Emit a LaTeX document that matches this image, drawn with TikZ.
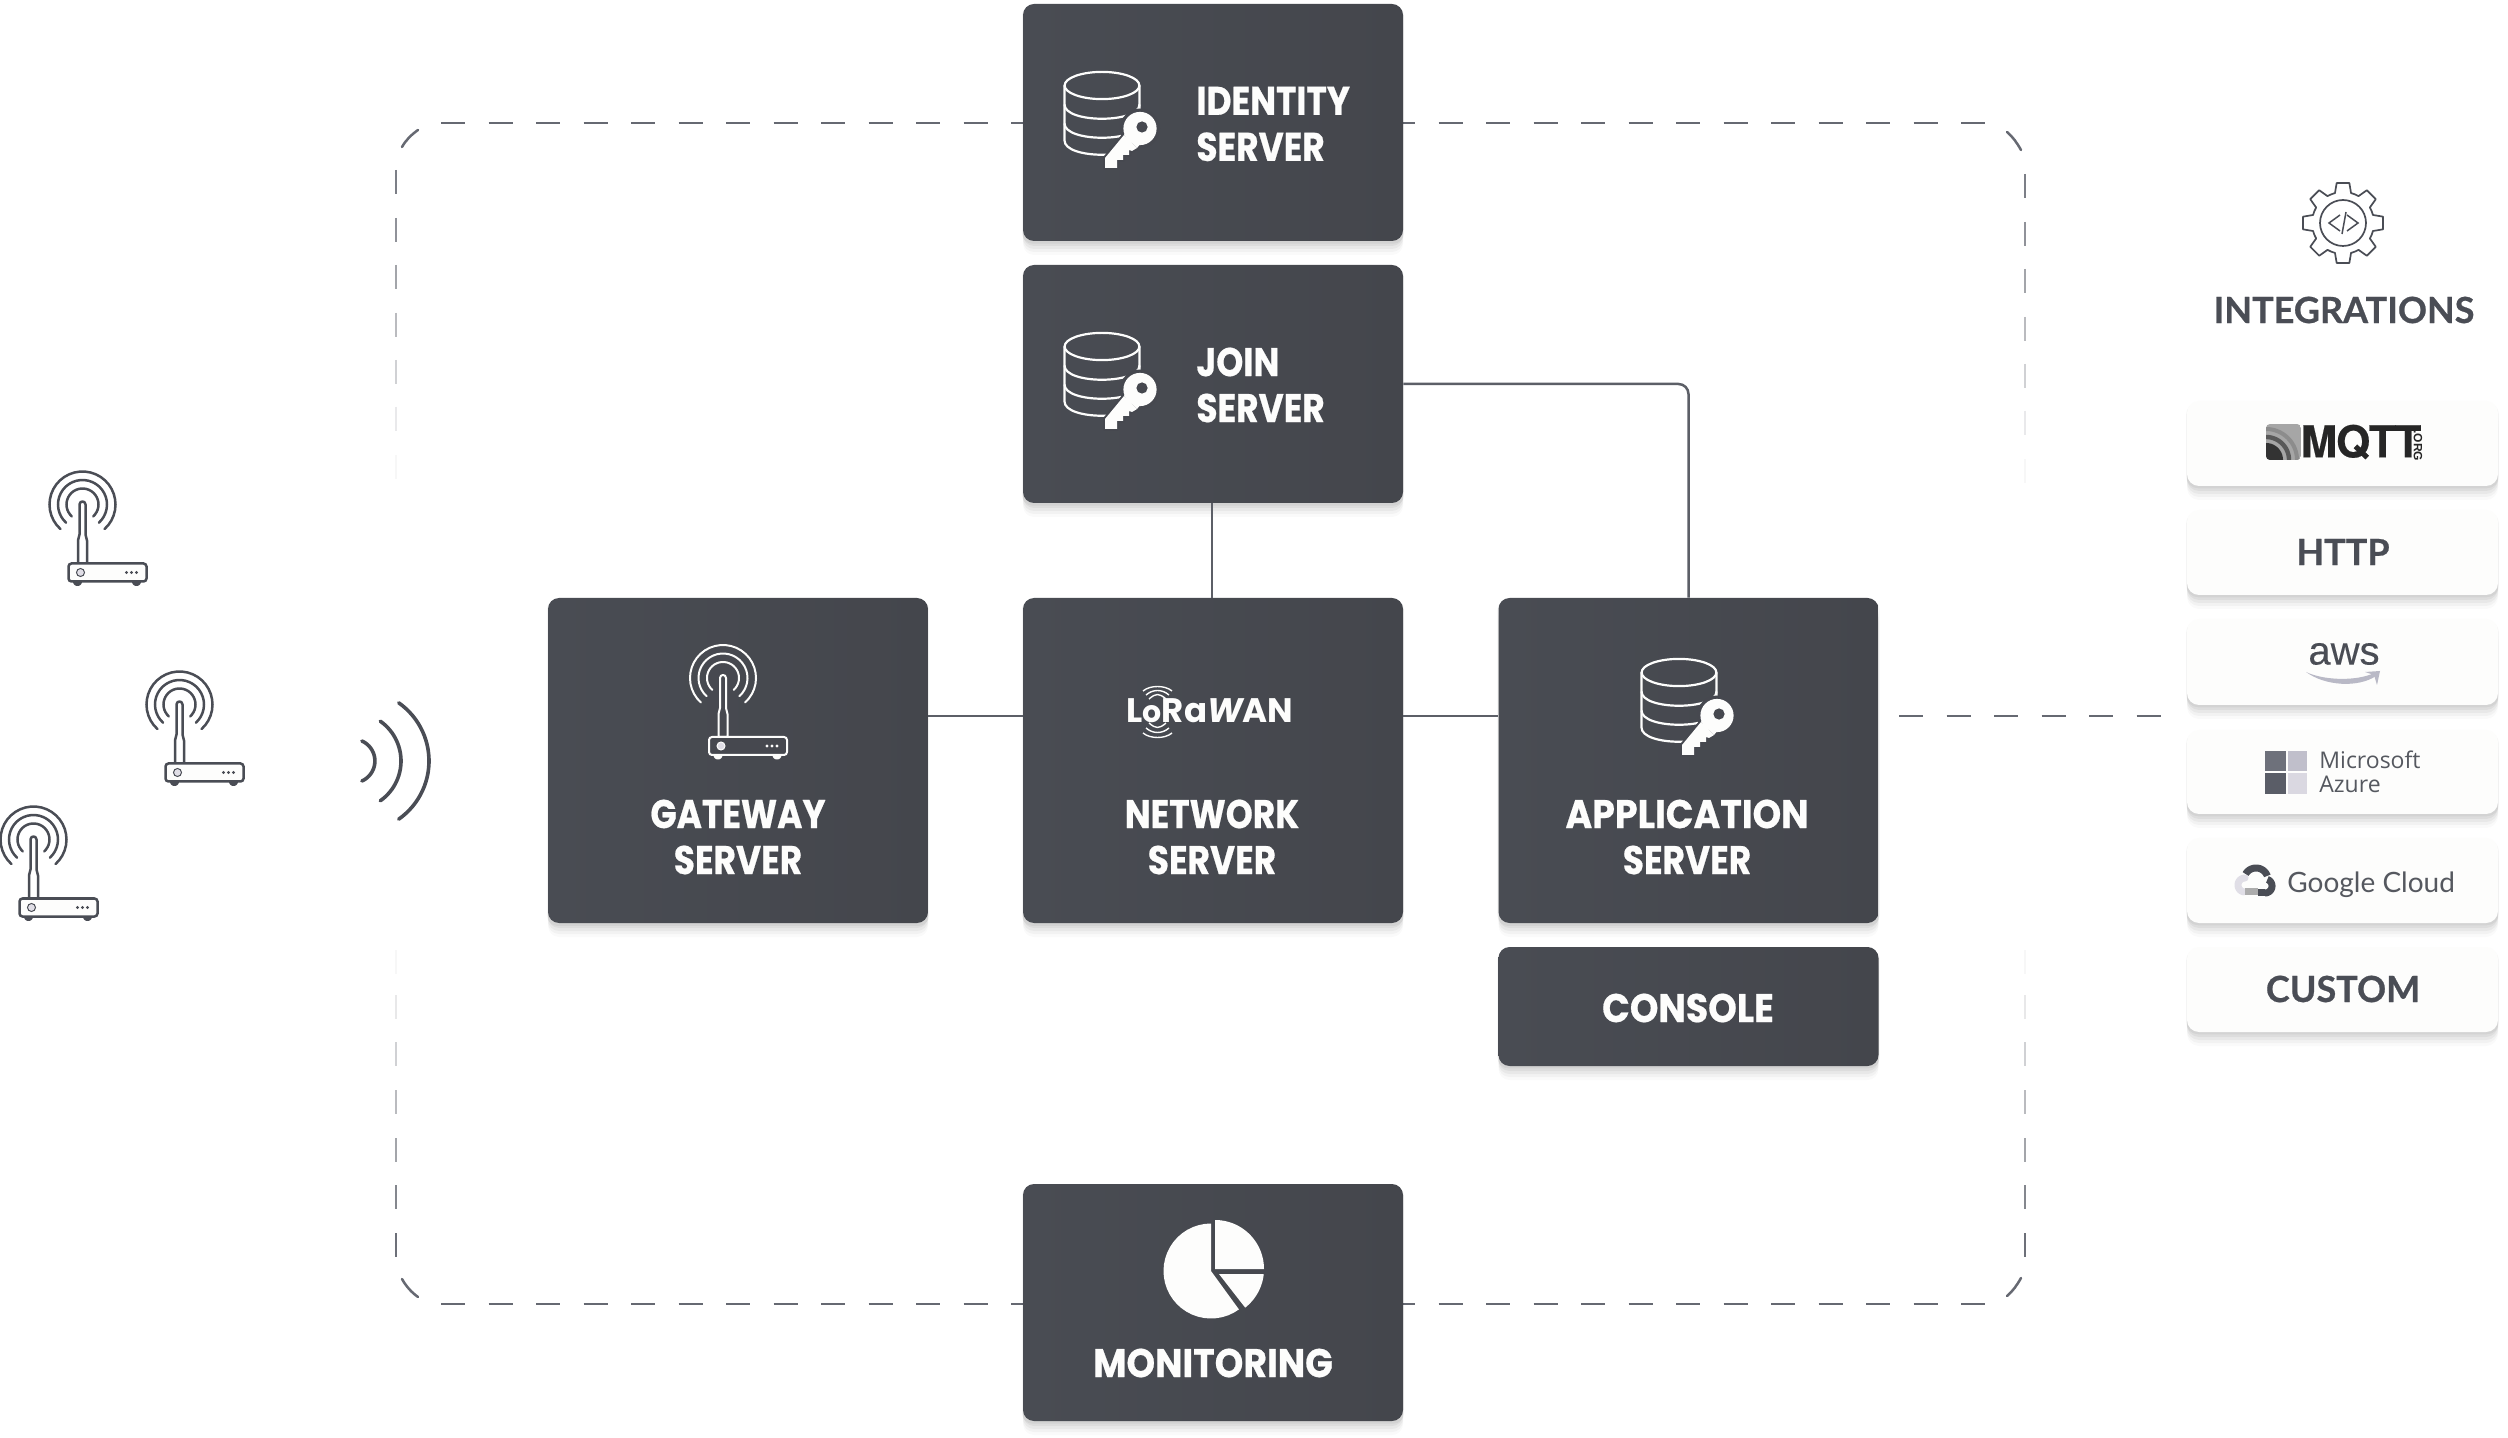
\documentclass[tikz,border=0pt]{standalone}
\usepackage{fontspec}
\usetikzlibrary{shadows}
\newfontfamily\boxf{Poppins}[FakeStretch=0.86,BoldFeatures={FakeBold=0.5}]
\newfontfamily\boxw{Poppins}[FakeStretch=0.91,BoldFeatures={FakeBold=0.5}]
\newfontfamily\monf{Poppins}
\newfontfamily\latof{Lato}[BoldFeatures={FakeBold=0.6}]
\newfontfamily\openf{Open Sans}
\newfontfamily\libf{Liberation Sans}[FakeBold=0.2]
\newfontfamily\libo{Liberation Sans}
\newfontfamily\herof{TeX Gyre Heros}[LetterSpace=-3,BoldFeatures={FakeBold=0.4}]
\definecolor{boxA}{HTML}{494C53}
\definecolor{boxB}{HTML}{44464C}
\definecolor{boxM}{HTML}{46484F}
\definecolor{ink}{HTML}{4A4D55}
\definecolor{wire}{HTML}{5C5F67}
\definecolor{dashc}{HTML}{666972}
\definecolor{cardc}{HTML}{FDFDFC}
\definecolor{lilac}{HTML}{E0DEE6}
\definecolor{soft}{HTML}{55585F}
\definecolor{azA}{HTML}{6E717B}
\definecolor{azB}{HTML}{C0BFCB}
\definecolor{azC}{HTML}{5A5D67}
\definecolor{azD}{HTML}{DAD8E1}
\definecolor{smile}{HTML}{B9B9C6}
\newcommand\parc[5]{plot[domain=#4:#5,samples=30,variable=\tv]({#1+#3*cos(\tv)},{#2+#3*sin(\tv)})}
\newcommand\parl[5]{-- plot[domain=#4:#5,samples=30,variable=\tv]({#1+#3*cos(\tv)},{#2+#3*sin(\tv)})}
\tikzset{
  softshadow/.style={
    general shadow={fill=black,fill opacity=.045,shadow yshift=-1pt,shadow scale=1.006},
    general shadow={fill=black,fill opacity=.045,shadow yshift=-2.5pt},
    general shadow={fill=black,fill opacity=.04,shadow yshift=-4pt},
    general shadow={fill=black,fill opacity=.03,shadow yshift=-5.5pt},
    general shadow={fill=black,fill opacity=.02,shadow yshift=-7pt}},
  darkbox/.style={softshadow,rounded corners=5.5pt,left color=boxA,right color=boxB,minimum width=190pt,inner sep=0pt},
  card/.style={softshadow,rounded corners=6pt,fill=cardc,minimum width=155.5pt,inner sep=0pt},
  boxlabel/.style={text=cardc,inner sep=0pt,font=\boxf\bfseries\fontsize{20}{23}\selectfont},
  cardlabel/.style={text=ink,inner sep=0pt,font=\latof\bfseries\fontsize{18}{21}\selectfont},
  wireline/.style={draw=wire,line width=1.25pt},
  dashline/.style={draw=dashc,line width=1.25pt,dash pattern=on 12pt off 11.75pt},
  framepiece/.style={draw=dashc,line width=1.25pt},
  routerpic/.pic={
    \draw[ic,line width=\ilw,line cap=round] \parc{0}{0}{33}{132}{408};
    \draw[ic,line width=\ilw,line cap=round] \parc{0}{0}{24.5}{132}{408};
    \draw[ic,line width=\ilw,line cap=round] \parc{0}{0}{16}{132}{408};
    \draw[ic,line width=\ilw,line join=round] (-3,0) .. controls (-3,-4) and (3,-4) .. (3,0) -- (3,30) -- (4.5,36) -- (4.5,59) -- (-4.5,59) -- (-4.5,36) -- (-3,30) -- cycle;
    \draw[ic,line width=\ilw,fill=ibg,rounded corners=1.5pt] (-14,59) rectangle (64,77);
    \draw[ic,line width=.5pt,fill=lilac] (-2,68) circle[radius=2pt];
    \fill[ic] (44,68) circle[radius=.85pt] (49,68) circle[radius=.85pt] (54,68) circle[radius=.85pt];
    \fill[ic] \parc{-5}{77}{4.5}{0}{180} -- cycle;
    \fill[ic] \parc{54}{77}{4.5}{0}{180} -- cycle;
  },
  dbkeypic/.pic={
    \draw[cardc,line width=1.1pt] (0,0) ellipse[x radius=18.7pt,y radius=6.8pt];
    \draw[cardc,line width=1.1pt] (-37.5,0) -- (-37.5,55) .. controls (-37.5,74) and (37.5,74) .. (37.5,55) -- (37.5,0);
    \draw[cardc,line width=1.1pt] (-37.5,19) .. controls (-37.5,38) and (37.5,38) .. (37.5,19);
    \draw[cardc,line width=1.1pt] (-37.5,38) .. controls (-37.5,57) and (37.5,57) .. (37.5,38);
    \fill[boxM] (38,43) circle[radius=10pt];
    \draw[boxM,line width=2pt,fill=cardc,line join=round] (3,72.5) -- (22,49.5) -- (35,62.5) -- (30,65.5) -- (27,64.5) -- (27,69.5) -- (21,69.5) -- (21,74.5) -- (15,74.5) -- (15,82.5) -- (3,82.5) -- cycle;
    \fill[cardc] (38,43) circle[radius=8.3pt];
    \fill[cardc] (22,49.5) -- (35,62.5) -- (41,55) -- (28,40) -- cycle;
    \fill[cardc] (3,72.5) -- (22,49.5) -- (35,62.5) -- (30,65.5) -- (27,64.5) -- (27,69.5) -- (21,69.5) -- (21,74.5) -- (15,74.5) -- (15,82.5) -- (3,82.5) -- cycle;
    \fill[boxM] (40,41.5) circle[radius=2.8pt];
  }
}
\begin{document}
\begin{tikzpicture}[x=.5pt,y=-.5pt]
\useasboundingbox (0,0) rectangle (2508,1438);
\fill[white] (0,0) rectangle (2508,1438);
\coordinate (bus) at (0,716);
% --- dashed frame
\draw[dashline] (441,123) -- (1023,123);
\draw[dashline] (1391,123) -- (1985,123);
\draw[dashline] (441,1304) -- (1023,1304);
\draw[dashline] (1391,1304) -- (1985,1304);
\draw[framepiece,line cap=round] (402,147) .. controls (406,140) and (411,135) .. (418,130);
\draw[framepiece,line cap=round] (402,1279) .. controls (406,1286) and (411,1292) .. (418,1297);
\draw[framepiece,line cap=round] (2021,150) .. controls (2017,143) and (2013,137) .. (2007,132);
\draw[framepiece,line cap=round] (2021,1278) .. controls (2017,1285) and (2013,1291) .. (2007,1296);
\foreach \yy/\op in {170/.85,218/.72,265/.6,313/.45,360/.3,407/.14,455/.05}{
  \draw[framepiece,opacity=\op] (396,\yy) -- (396,\yy+24);
  \draw[framepiece,opacity=\op] (2025,\yy+4) -- (2025,\yy+28);
}
\foreach \yy/\op in {950/.05,995/.15,1042/.3,1090/.45,1138/.6,1185/.8,1233/.95}{
  \draw[framepiece,opacity=\op] (396,\yy) -- (396,\yy+24);
  \draw[framepiece,opacity=\op] (2025,\yy) -- (2025,\yy+24);
}
% --- boxes
\node[darkbox,minimum height=118.5pt] (identity) at (1213,122.5) {};
\node[darkbox,minimum height=119pt] (join) at (1213,384) {};
\node[darkbox,minimum height=162.5pt] (gateway) at (738,760.5) {};
\node[darkbox,minimum height=162.5pt] (network) at (1213,760.5) {};
\node[darkbox,minimum height=162.5pt] (application) at (1688.5,760.5) {};
\node[darkbox,minimum height=59.5pt] (console) at (1688.5,1006.5) {};
\node[darkbox,minimum height=118.5pt] (monitoring) at (1213,1302.5) {};
% --- box labels
\node[boxlabel,align=left,anchor=west] (identitylabel) at (1196,124) {IDENTITY\\SERVER};
\node[boxlabel,align=left,anchor=west] (joinlabel) at (1196,385) {JOIN\\SERVER};
\node[boxlabel,align=center] (gatewaylabel) at (738,837) {GATEWAY\\SERVER};
\node[boxlabel,align=center] (networklabel) at (1212,837) {NETWORK\\SERVER};
\node[boxlabel,align=center] (applicationlabel) at (1687,837) {{\boxw APPLICATION}\\SERVER};
\node[boxlabel,font=\boxw\bfseries\fontsize{20}{23}\selectfont] (consolelabel) at (1688,1008) {CONSOLE};
\node[boxlabel,font=\boxw\bfseries\fontsize{20}{23}\selectfont] (monitoringlabel) at (1213,1363) {MONITORING};
% --- connectors
\draw[wireline] (networklabel |- join.south) -- (networklabel |- network.north);
\draw[wireline] (gateway.east |- bus) -- (network.west |- bus);
\draw[wireline] (network.east |- bus) -- (application.west |- bus);
\draw[wireline,rounded corners=5pt] (join.east) -| (application.north);
\coordinate (itgstart) at (1899,716);
\coordinate (itgend) at (2161,716);
\draw[dashline] (itgstart) -- (itgend);
% --- db icons
\pic (dbA) at (1102,85.5) {dbkeypic};
\pic (dbB) at (1102,346.5) {dbkeypic};
\pic (dbC) at (1679,672.5) {dbkeypic};
% --- routers
\begin{scope}
\colorlet{ic}{ink}\colorlet{ibg}{cardc}\def\ilw{1.25pt}
\pic (routerA) at (82.5,504.5) {routerpic};
\pic (routerB) at (179.5,704.5) {routerpic};
\pic (routerC) at (33.5,839.5) {routerpic};
\end{scope}
\begin{scope}
\colorlet{ic}{cardc}\colorlet{ibg}{boxM}\def\ilw{1pt}
\pic (routerD) at (723,678) {routerpic};
\end{scope}
% --- waves
\draw[ink,line width=1.8pt,line cap=round] \parc{353}{761}{21.9}{-66}{66};
\draw[ink,line width=1.8pt,line cap=round] \parc{352.4}{761}{48.6}{-55}{55};
\draw[ink,line width=1.8pt,line cap=round] \parc{358}{761}{71}{-55}{55};
% --- LoRaWAN
\node[text=cardc,inner sep=0pt,font=\monf\bfseries\fontsize{17}{20}\selectfont] (lorawan) at (1210,711) {L{\fontsize{15}{18}\selectfont o}Ra{\itshape W}AN};
\foreach \xa/\xb/\yy in {1143/1172/691,1146/1169/695,1149/1166/699}{
  \draw[cardc,line width=.7pt] (\xa,\yy) .. controls (\xa+7,\yy-6) and (\xb-7,\yy-6) .. (\xb,\yy);
}
\foreach \xa/\xb/\yy in {1149/1166/723,1146/1169/728,1143/1172/733}{
  \draw[cardc,line width=.7pt] (\xa,\yy) .. controls (\xa+7,\yy+6) and (\xb-7,\yy+6) .. (\xb,\yy);
}
% --- pie
\fill[cardc] (1211,1271) \parl{1211}{1271}{47.5}{270}{54} -- cycle;
\fill[cardc] (1215,1269) \parl{1215}{1269}{49}{270}{360} -- cycle;
\fill[cardc] (1219,1274) \parl{1215}{1269}{49}{6}{52} -- cycle;
% --- gear
\begin{scope}[shift={(2343,223)}]
\draw[ink,line width=.85pt,line join=round] ({31*cos(-105)},{31*sin(-105)}) \foreach \a in {-90,-45,0,45,90,135,180,225}{
   -- ({31*cos(\a-15)},{31*sin(\a-15)}) -- ({40.5*cos(\a-9)},{40.5*sin(\a-9)}) -- ({40.5*cos(\a+9)},{40.5*sin(\a+9)}) -- ({31*cos(\a+15)},{31*sin(\a+15)}) -- ({31*cos(\a+22.5)},{31*sin(\a+22.5)})
} -- cycle;
\draw[ink,line width=.85pt] (0,0) circle[radius=11.5pt];
\draw[ink,line width=.75pt] (-3,-8) -- (-14,0) -- (-3,8);
\draw[ink,line width=.75pt] (4,-8) -- (15,0) -- (4,8);
\draw[ink,line width=.75pt] (3,-11) -- (-1,11);
\end{scope}
\node[cardlabel] (integrations) at (2344,310) {INTEGRATIONS};
% --- cards
\node[card,minimum height=42.5pt] (mqtt) at (2342.5,443.5) {};
\node[card,minimum height=42.5pt] (http) at (2342.5,552.5) {};
\node[card,minimum height=43pt] (aws) at (2342.5,662) {};
\node[card,minimum height=42pt] (azure) at (2342.5,772) {};
\node[card,minimum height=42.5pt] (google) at (2342.5,880.5) {};
\node[card,minimum height=42.5pt] (custom) at (2342.5,989.5) {};
% MQTT
\begin{scope}
\clip[rounded corners=2pt] (2266,424) rectangle (2301,460);
\fill[gray!70] (2266,424) rectangle (2301,460);
\fill[black!80] (2266,460) \parl{2266}{460}{17}{270}{360} -- cycle;
\draw[black!65,line width=2.2pt] \parc{2266}{460}{23}{270}{360};
\draw[black!45,line width=2pt] \parc{2266}{460}{31}{270}{360};
\end{scope}
\node[text=black!85,inner sep=0pt,font=\herof\bfseries\fontsize{22}{24}\selectfont] (mqttlabel) at (2361,442) {MQTT};
\node[text=black!85,inner sep=0pt,rotate=-90,font=\libo\bfseries\fontsize{6}{7}\selectfont] (orglabel) at (2418,446) {.ORG};
\node[cardlabel] (httplabel) at (2343,552) {HTTP};
% aws
\node[text=ink,inner sep=0pt,font=\libf\fontsize{20}{22}\selectfont] (awslabel) at (2344,654) {aws};
\fill[smile] (2306,672) .. controls (2325,686) and (2358,688) .. (2376,676) -- (2374,673) .. controls (2358,681) and (2325,681) .. (2306,672) -- cycle;
\fill[smile] (2365,672) -- (2380,671) -- (2377,685) -- (2374,675) -- cycle;
% azure
\fill[azA] (2265,751) rectangle (2286,771);
\fill[azB] (2288,751) rectangle (2307,771);
\fill[azC] (2265,773) rectangle (2286,794);
\fill[azD] (2288,773) rectangle (2307,794);
\node[text=soft,inner sep=0pt,anchor=west,align=left,font=\openf\fontsize{11.5}{12}\selectfont] (azurelabel) at (2319,772) {Microsoft\\Azure};
% google
\draw[lilac,line width=3.5pt,line cap=round] \parc{2245}{885}{7}{100}{270};
\draw[gray!65,line width=3.5pt] (2245,892) -- (2258,892);
\draw[ink,line width=3.5pt] \parc{2256}{880}{12}{210}{340};
\draw[ink,line width=3.5pt] \parc{2265}{886}{7}{290}{450};
\draw[ink,line width=3.5pt] (2258,893) -- (2265,893);
\node[text=soft,inner sep=0pt,anchor=west,font=\latof\fontsize{14}{16}\selectfont] (googlelabel) at (2287,885) {Google Cloud};
\node[cardlabel] (customlabel) at (2343,989) {CUSTOM};
\end{tikzpicture}
\end{document}
